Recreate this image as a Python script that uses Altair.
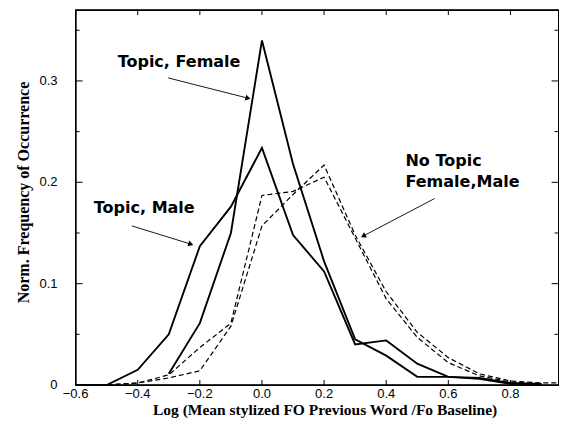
import altair as alt
import pandas as pd

# ---- data ----
x_vals = [-0.6, -0.5, -0.4, -0.3, -0.2, -0.1, 0.0, 0.1, 0.2, 0.3, 0.4, 0.5, 0.6, 0.7, 0.8, 0.9]

topic_female_x = x_vals[3:]
topic_female = [0.011, 0.061, 0.150, 0.340, 0.218, 0.122, 0.045, 0.029, 0.008, 0.008, 0.006, 0.001, 0.001]

topic_male_x = x_vals
topic_male = [0.0, 0.0, 0.015, 0.050, 0.137, 0.176, 0.234, 0.148, 0.112, 0.040, 0.044, 0.021, 0.008, 0.007, 0.002, 0.001]

notopic_a_x = x_vals
notopic_a = [0.0, 0.0, 0.002, 0.010, 0.037, 0.061, 0.187, 0.191, 0.205, 0.145, 0.085, 0.047, 0.022, 0.009, 0.003, 0.001]

notopic_b_x = x_vals + [1.0]
notopic_b = [0.0, 0.0, 0.002, 0.007, 0.014, 0.058, 0.157, 0.188, 0.217, 0.148, 0.092, 0.052, 0.027, 0.011, 0.004, 0.002, 0.002]

# ticks and tick labels
x_ticks = [-0.6, -0.4, -0.2, 0.0, 0.2, 0.4, 0.6, 0.8]
x_tick_labels = ["\u22120.6", "\u22120.4", "\u22120.2", "0.0", "0.2", "0.4", "0.6", "0.8"]
y_label_ticks = [0.0, 0.1, 0.2, 0.3]
y_tick_labels = ["0", "0.1", "0.2", "0.3"]
y_major_ticks = [0.1, 0.2, 0.3]
y_minor_ticks = [0.05, 0.15, 0.25, 0.35]

x_domain = [-0.6, 0.955]
y_domain = [0.0, 0.37]

x_title = "Log (Mean stylized FO Previous Word /Fo Baseline)"
y_title = "Norm. Frequency of Occurrence"

# annotations (data coordinates)
center_labels = ["Topic, Female", "Topic, Male"]
center_label_x = [-0.267, -0.379]
center_label_y = [0.319, 0.175]

left_labels = ["No Topic", "Female,Male"]
left_label_x = [0.462, 0.462]
left_label_y = [0.221, 0.200]

arrow_x = [-0.302, -0.419, 0.556]
arrow_y = [0.303, 0.157, 0.184]
arrow_x2 = [-0.045, -0.229, 0.326]
arrow_y2 = [0.283, 0.139, 0.147]
arrow_angle = [14.5, 17.8, 151.7]

W, H = 483, 375

# ---- tables ----
solid = pd.concat([
    pd.DataFrame({"x": topic_female_x, "y": topic_female, "series": "Topic, Female"}),
    pd.DataFrame({"x": topic_male_x, "y": topic_male, "series": "Topic, Male"}),
])
dashed = pd.concat([
    pd.DataFrame({"x": notopic_a_x, "y": notopic_a, "series": "No Topic A"}),
    pd.DataFrame({"x": notopic_b_x, "y": notopic_b, "series": "No Topic B"}),
])
arrows = pd.DataFrame({"x": arrow_x, "y": arrow_y, "x2": arrow_x2, "y2": arrow_y2, "angle": arrow_angle})
clabels = pd.DataFrame({"x": center_label_x, "y": center_label_y, "text": center_labels})
llabels = pd.DataFrame({"x": left_label_x, "y": left_label_y, "text": left_labels})
xt = pd.DataFrame({"v": x_ticks, "label": x_tick_labels})
yl = pd.DataFrame({"v": y_label_ticks, "label": y_tick_labels})
ymaj = pd.DataFrame({"v": y_major_ticks})
ymin = pd.DataFrame({"v": y_minor_ticks})
xtitle_df = pd.DataFrame({"text": [x_title]})
ytitle_df = pd.DataFrame({"text": [y_title]})
one = pd.DataFrame({"k": [0]})
# plot border along the scale domains
border_h = pd.DataFrame({"x": [x_domain[0]] * 2, "x2": [x_domain[1]] * 2, "y": y_domain})
border_v = pd.DataFrame({"y": [y_domain[0]] * 2, "y2": [y_domain[1]] * 2, "x": x_domain})

xscale = alt.Scale(domain=x_domain, nice=False, zero=False)
yscale = alt.Scale(domain=y_domain, nice=False, zero=False)

label_font = "Liberation Sans"
title_font = "Liberation Serif"


def X(field):
    return alt.X(field, scale=xscale, axis=None)


def Y(field):
    return alt.Y(field, scale=yscale, axis=None)


solid_layer = alt.Chart(solid).mark_line(color="black", strokeWidth=1.9, clip=True).encode(
    x=X("x:Q"), y=Y("y:Q"), detail="series:N",
)
dashed_layer = alt.Chart(dashed).mark_line(color="black", strokeWidth=1.2, strokeDash=[5, 3], clip=True).encode(
    x=X("x:Q"), y=Y("y:Q"), detail="series:N",
)
arrow_layer = alt.Chart(arrows).mark_rule(color="black", strokeWidth=0.9).encode(
    x=X("x:Q"), y=Y("y:Q"), x2="x2:Q", y2="y2:Q",
)
head_layer = alt.Chart(arrows).mark_point(shape="triangle-right", filled=True, color="black",
                                          opacity=1, size=35).encode(
    x=X("x2:Q"), y=Y("y2:Q"), angle=alt.Angle("angle:Q", scale=None),
)
ctext = alt.Chart(clabels).mark_text(font="DejaVu Sans", fontWeight="bold", fontSize=16,
                                     align="center", baseline="middle", color="black").encode(
    x=X("x:Q"), y=Y("y:Q"), text="text:N",
)
ltext = alt.Chart(llabels).mark_text(font="DejaVu Sans", fontWeight="bold", fontSize=16,
                                     align="left", baseline="middle", color="black").encode(
    x=X("x:Q"), y=Y("y:Q"), text="text:N",
)

# inward tick marks on all four sides
def xticks_at(y0, y1):
    return alt.Chart(xt).mark_rule(color="black", strokeWidth=1).encode(
        x=X("v:Q"), y=alt.value(y0), y2=alt.value(y1))


def yticks_at(df, x0, x1):
    return alt.Chart(df).mark_rule(color="black", strokeWidth=1).encode(
        y=Y("v:Q"), x=alt.value(x0), x2=alt.value(x1))


tick_layers = [
    xticks_at(H, H - 5), xticks_at(0, 5),
    yticks_at(ymaj, 0, 7), yticks_at(ymin, 0, 4),
    yticks_at(ymaj, W, W - 7), yticks_at(ymin, W, W - 4),
]

# tick labels and axis titles
x_labels = alt.Chart(xt).mark_text(font=label_font, fontSize=13, color="black",
                                   align="center", baseline="top").encode(
    x=X("v:Q"), y=alt.value(H + 3), text="label:N")
y_labels = alt.Chart(yl).mark_text(font=label_font, fontSize=13, color="black",
                                   align="right", baseline="middle").encode(
    y=Y("v:Q"), x=alt.value(-18), text="label:N")
x_title_layer = alt.Chart(xtitle_df).mark_text(font=title_font, fontSize=15.5, fontWeight="bold",
                                               color="black", align="center",
                                               baseline="alphabetic").encode(
    x=alt.value(W / 2 + 8), y=alt.value(H + 30), text="text:N")
y_title_layer = alt.Chart(ytitle_df).mark_text(font=title_font, fontSize=16, fontWeight="bold",
                                               color="black", align="center", baseline="middle",
                                               angle=270).encode(
    x=alt.value(-52), y=alt.value(H / 2 - 5), text="text:N")

frame = alt.Chart(one).mark_rect(filled=False, stroke="black", strokeWidth=1.2).encode(
    x=alt.value(0), x2=alt.value(W), y=alt.value(0), y2=alt.value(H))

border_layers = [
    alt.Chart(border_h).mark_rule(color="black", strokeWidth=1.2).encode(
        x=X("x:Q"), x2="x2:Q", y=Y("y:Q")),
    alt.Chart(border_v).mark_rule(color="black", strokeWidth=1.2).encode(
        y=Y("y:Q"), y2="y2:Q", x=X("x:Q")),
]

chart = alt.layer(
    solid_layer, dashed_layer, arrow_layer, head_layer, ctext, ltext, *tick_layers,
    x_labels, y_labels, x_title_layer, y_title_layer, frame, *border_layers
).properties(
    width=W, height=H,
    autosize=alt.AutoSizeParams(type="none"),
    padding={"left": 67.6, "top": 2, "right": 0.4, "bottom": 33},
    background="white",
).configure_view(stroke="black", strokeWidth=1.2)

chart.save("out.html", embed_options={"renderer": "svg", "actions": False})
